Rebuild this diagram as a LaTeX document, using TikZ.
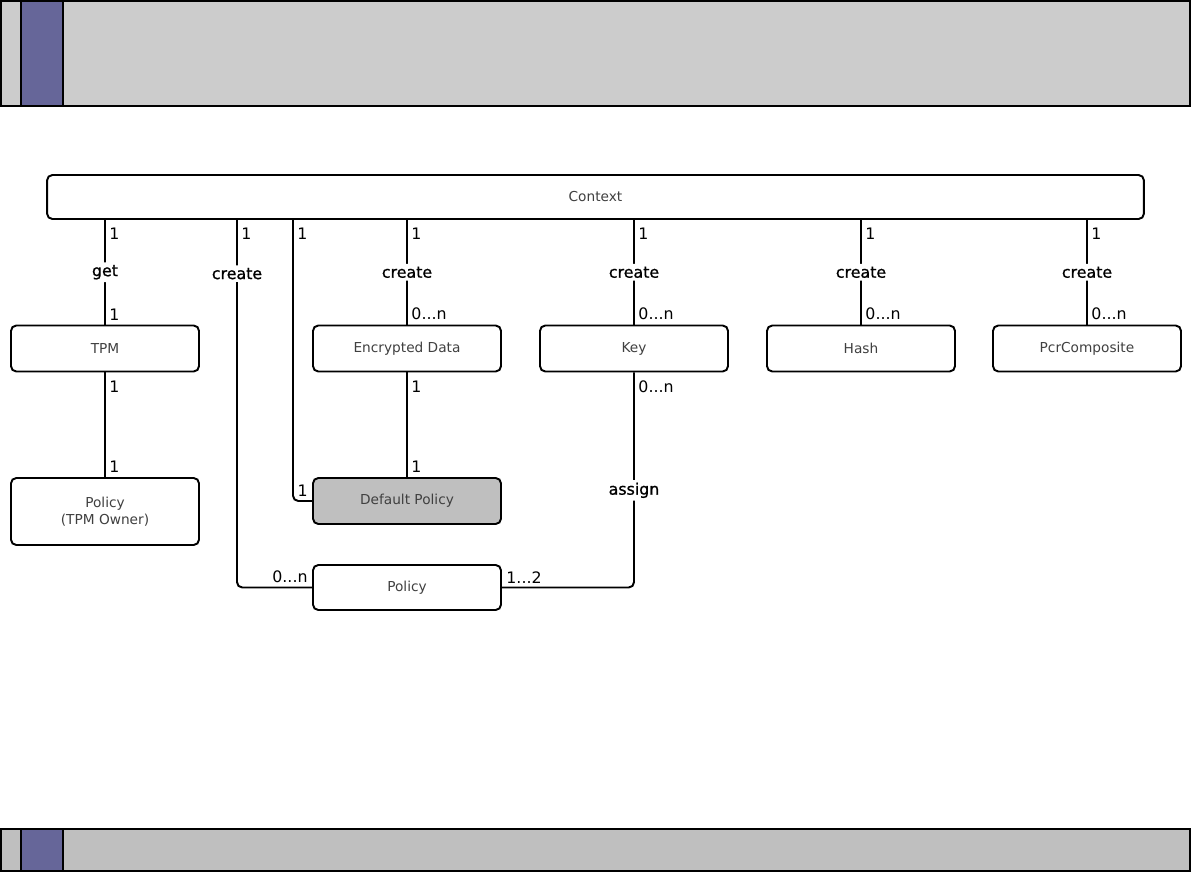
\documentclass[tikz,border=0pt]{standalone}
\usepackage{fontspec}
\setmainfont{DejaVu Sans}
\newfontfamily\verbfont[FakeBold=1]{DejaVu Sans}
\definecolor{bandpurple}{HTML}{666699}
\begin{document}
\begin{tikzpicture}[x=0.02cm,y=-0.02cm,
  box/.style={draw,rounded corners=3pt,line width=1.1pt,fill=white,text=black!75,
    font=\fontsize{7.8}{9.5}\selectfont,minimum width=3.76cm,minimum height=0.92cm,align=center},
  mult/.style={font=\fontsize{9}{10}\selectfont,inner sep=2pt},
  mhead/.style={mult,anchor=north west,yshift=-2.2pt},
  mtail/.style={mult,anchor=south west},
  verb/.style={fill=white,font=\verbfont\fontsize{9}{10}\selectfont,inner sep=1.5pt},
  link/.style={line width=1.1pt,rounded corners=3pt}]
\useasboundingbox (0,0) rectangle (1191,893);
% slide bands
\draw[line width=0.8pt,fill=black!20] (1,1) rectangle (1190,106);
\draw[line width=0.8pt,fill=bandpurple] (21,1) rectangle (63,106);
\draw[line width=0.8pt,fill=black!25] (1,829) rectangle (1190,871);
\draw[line width=0.8pt,fill=bandpurple] (21,829) rectangle (63,871);

% classes
\node[box,minimum width=21.94cm,minimum height=0.88cm](ctx) at (595.5,197){Context};
\node[box](tpm) at (105,348.5){TPM};
\node[box](encdata) at (407,348.5){Encrypted Data};
\node[box](key) at (634,348.5){Key};
\node[box](hash) at (861,348.5){Hash};
\node[box](pcr) at (1087,348.5){PcrComposite};
\node[box,minimum height=1.34cm](owner) at (105,511.5){Policy\\(TPM Owner)};
\node[box,fill=black!25](defpol) at (407,501){Default Policy};
\node[box,minimum height=0.9cm](pol) at (407,587.5){Policy};
\coordinate (cpol) at (237,0);
\coordinate (cdef) at (293,0);

% associations
\draw[link] (ctx.south -| tpm) --
  node[pos=0,mhead](m1){1}
  node[verb](v1){get}
  node[pos=1,mtail](m2){1} (tpm.north);
\draw[link] (tpm.south) --
  node[pos=0,mhead](m3){1}
  node[pos=1,mtail](m4){1} (owner.north);
\draw[link] (ctx.south -| cpol) |-
  node[pos=0,mhead](m5){1}
  node[pos=0.073,verb](v2){create}
  node[pos=1,mult,anchor=south east](m6){0...n} (pol.west);
\draw[link] (ctx.south -| cdef) |-
  node[pos=0,mhead](m7){1}
  node[pos=1,mult,anchor=south east](m8){1} (defpol.west);
\draw[link] (ctx.south -| encdata) --
  node[pos=0,mhead](m9){1}
  node[verb](v3){create}
  node[pos=1,mtail](m10){0...n} (encdata.north);
\draw[link] (encdata.south) --
  node[pos=0,mhead](m11){1}
  node[pos=1,mtail](m12){1} (defpol.north);
\draw[link] (ctx.south -| key) --
  node[pos=0,mhead](m13){1}
  node[verb](v4){create}
  node[pos=1,mtail](m14){0...n} (key.north);
\draw[link] (key.south) |-
  node[pos=0,mhead](m15){0...n}
  node[pos=0.274,verb](v5){assign}
  node[pos=1,mtail](m16){1...2} (pol.east);
\draw[link] (ctx.south -| hash) --
  node[pos=0,mhead](m17){1}
  node[verb](v6){create}
  node[pos=1,mtail](m18){0...n} (hash.north);
\draw[link] (ctx.south -| pcr) --
  node[pos=0,mhead](m19){1}
  node[verb](v7){create}
  node[pos=1,mtail](m20){0...n} (pcr.north);
\end{tikzpicture}
\end{document}
